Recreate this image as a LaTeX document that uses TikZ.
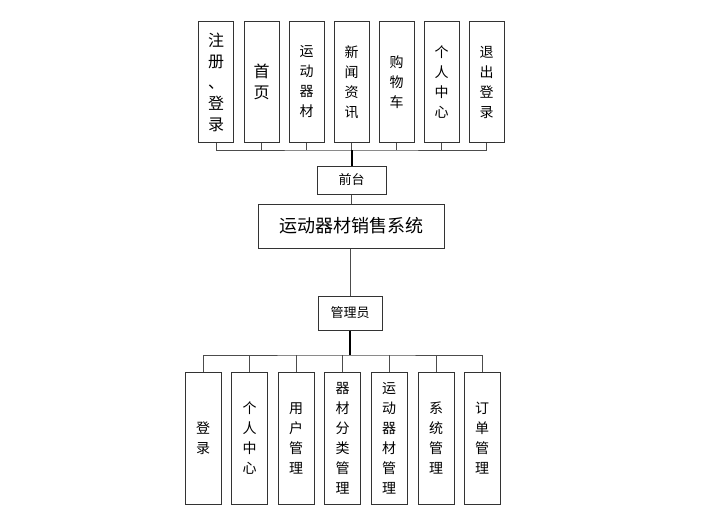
\documentclass[tikz,border=0pt]{standalone}
\usepackage{fontspec}
\setmainfont{Noto Sans CJK SC}

\begin{document}
\begin{tikzpicture}[x=1pt, y=-1pt,
  box/.style={draw=black!80, line width=1pt, inner sep=0pt, align=center,
    font=\fontsize{14}{20}\selectfont},
  topbox/.style={box, minimum width=35pt, minimum height=120pt},
  lowbox/.style={box, minimum width=36pt, minimum height=132pt},
  link/.style={draw=black!70, line width=1pt},
  trunk/.style={draw=black, line width=2pt}]
  \useasboundingbox (0,0) rectangle (710,527);

  % front end modules
  \node[topbox, font=\fontsize{16}{21}\selectfont] (reg) at (216,82) {注\\册\\、\\登\\录};
  \node[topbox, font=\fontsize{16}{21}\selectfont] (home) at (261.5,82) {首\\页};
  \node[topbox] (goods) at (306.5,82) {运\\动\\器\\材};
  \node[topbox] (news) at (351.5,82) {新\\闻\\资\\讯};
  \node[topbox] (cart) at (396.5,82) {购\\物\\车};
  \node[topbox] (mine) at (441.5,82) {个\\人\\中\\心};
  \node[topbox] (quit) at (486.5,82) {退\\出\\登\\录};

  \node[box, minimum width=69pt, minimum height=28pt, font=\fontsize{13}{15}\selectfont] (front) at (351.5,180) {前台};
  \node[box, minimum width=186pt, minimum height=44pt, font=\fontsize{18}{20}\selectfont] (sys) at (351,226) {运动器材销售系统};
  \node[box, minimum width=64pt, minimum height=34pt, font=\fontsize{13}{15}\selectfont] (admin) at (350,313) {管理员};

  % back end modules
  \node[lowbox] (login) at (203,438) {登\\录};
  \node[lowbox] (center) at (249.5,438) {个\\人\\中\\心};
  \node[lowbox] (users) at (296,438) {用\\户\\管\\理};
  \node[lowbox] (cats) at (342.5,438) {器\\材\\分\\类\\管\\理};
  \node[lowbox] (items) at (389,438) {运\\动\\器\\材\\管\\理};
  \node[lowbox] (system) at (436,438) {系\\统\\管\\理};
  \node[lowbox] (orders) at (482,438) {订\\单\\管\\理};

  \coordinate (topbus) at (351.5,150);
  \coordinate (lowbus) at (350,355);

  \draw[link] (reg.south) |- (topbus) -| (quit.south);
  \draw[link] (home.south) -- (home.south |- topbus);
  \draw[link] (goods.south) -- (goods.south |- topbus);
  \draw[link] (news.south) -- (news.south |- topbus);
  \draw[link] (cart.south) -- (cart.south |- topbus);
  \draw[link] (mine.south) -- (mine.south |- topbus);
  \draw[trunk] (topbus) -- (front.north);
  \draw[link] (front.south) -- (front.south |- sys.north);
  \draw[link] (sys.south -| admin.north) -- (admin.north);
  \draw[trunk] (admin.south) -- (lowbus);

  \draw[link] (login.north) |- (lowbus) -| (orders.north);
  \draw[link] (center.north) -- (center.north |- lowbus);
  \draw[link] (users.north) -- (users.north |- lowbus);
  \draw[link] (cats.north) -- (cats.north |- lowbus);
  \draw[link] (items.north) -- (items.north |- lowbus);
  \draw[link] (system.north) -- (system.north |- lowbus);
\end{tikzpicture}
\end{document}
